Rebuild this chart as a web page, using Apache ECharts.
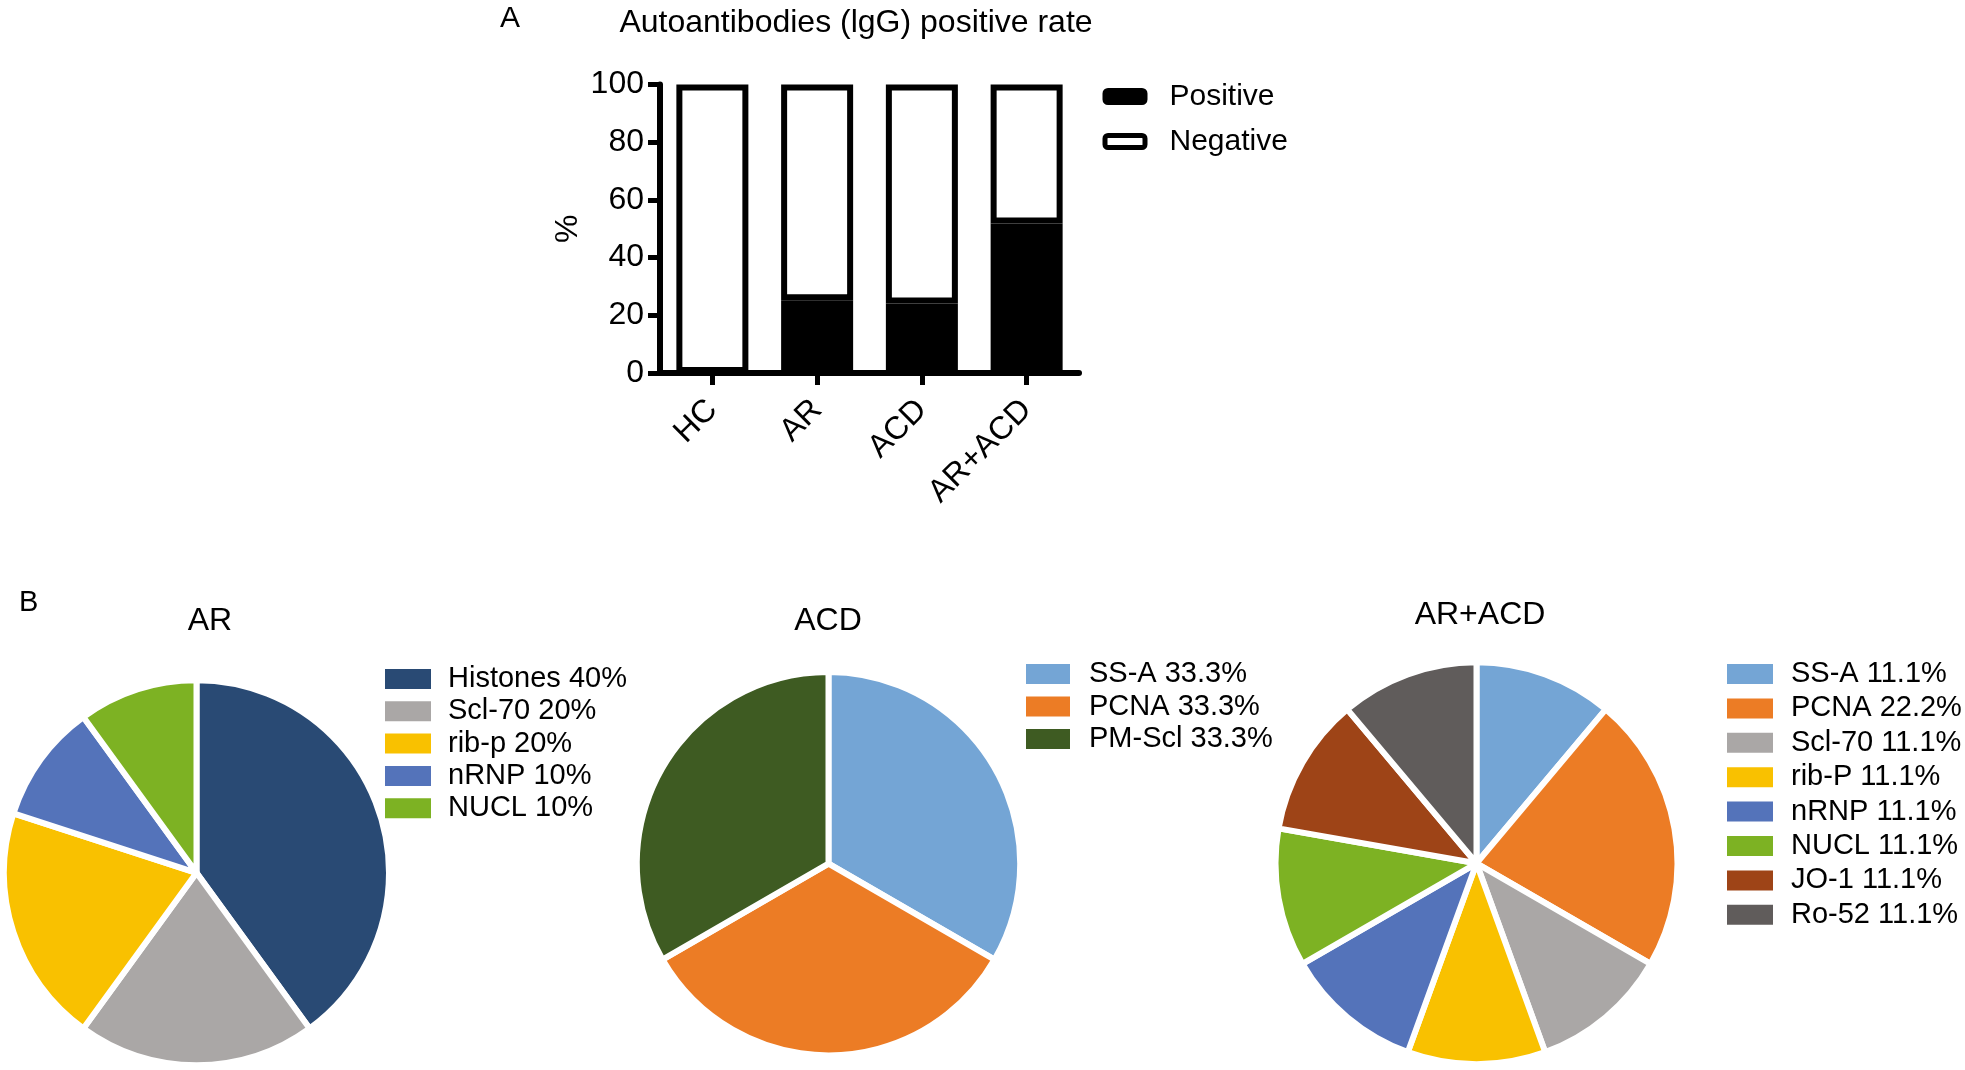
<!DOCTYPE html>
<html>
<head>
<meta charset="utf-8">
<script src="https://cdn.jsdelivr.net/npm/echarts@6/dist/echarts.min.js"></script>
<style>
html,body{margin:0;padding:0;background:#fff;}
#chart{width:1965px;height:1070px;}
</style>
</head>
<body>
<div id="chart"></div>
<script>
// ---- Panel A data ----
const barCategories = ['HC', 'AR', 'ACD', 'AR+ACD'];
const positiveRate = [0, 25.2, 24.1, 51.8];
const negativeRate = [100, 74.8, 75.9, 48.2];
const yTicks = [0, 20, 40, 60, 80, 100];

// ---- Panel B data ----
const arNames = ['Histones', 'Scl-70', 'rib-p', 'nRNP', 'NUCL'];
const arValues = [40, 20, 20, 10, 10];
const acdNames = ['SS-A', 'PCNA', 'PM-Scl'];
const acdValues = [33.3, 33.3, 33.3];
const bothNames = ['SS-A', 'PCNA', 'Scl-70', 'rib-P', 'nRNP', 'NUCL', 'JO-1', 'Ro-52'];
const bothValues = [11.1, 22.2, 11.1, 11.1, 11.1, 11.1, 11.1, 11.1];

// ---- styles ----
const FONT = "'Liberation Sans', Arial, Helvetica, sans-serif";
const sliceColors = {
  'Histones': '#294A74', 'Scl-70': '#AAA7A6', 'rib-p': '#F9C100', 'rib-P': '#F9C100',
  'nRNP': '#5473BA', 'NUCL': '#7DB223', 'SS-A': '#74A5D5', 'PCNA': '#EC7C25',
  'PM-Scl': '#3E5B22', 'JO-1': '#9E4417', 'Ro-52': '#605C5B'
};

function pieData(names, values) {
  return names.map((n, i) => ({
    name: n + ' ' + values[i] + '%',
    value: values[i],
    itemStyle: { color: sliceColors[n] }
  }));
}
const arData = pieData(arNames, arValues);
const acdData = pieData(acdNames, acdValues);
const bothData = pieData(bothNames, bothValues);

function pieSeries(name, data, center, radius) {
  return {
    type: 'pie', name: name, data: data,
    center: center, radius: radius,
    startAngle: 90, clockwise: true,
    label: { show: false }, labelLine: { show: false },
    emphasis: { disabled: true }, silent: true,
    itemStyle: { borderColor: '#ffffff', borderWidth: 6 }
  };
}

function pieLegend(data, left, top, itemWidth, gap, pad) {
  return {
    orient: 'vertical', left: left, top: top, padding: 0,
    itemWidth: itemWidth, itemHeight: 20, itemGap: gap, icon: 'rect',
    data: data.map(d => d.name),
    itemStyle: { borderWidth: 0 },
    selectedMode: false,
    textStyle: { fontFamily: FONT, fontSize: 29, color: '#000', lineHeight: 29, padding: [0, 0, 0, pad] }
  };
}

const titleStyle = (size) => ({ fontFamily: FONT, fontSize: size, fontWeight: 'normal', color: '#000' });

const option = {
  animation: false,
  backgroundColor: '#ffffff',
  title: [
    { text: 'A', left: 500, top: 4, padding: 0, textStyle: titleStyle(30) },
    { text: 'Autoantibodies (lgG) positive rate', left: 856, top: 7.5, padding: 0, textAlign: 'center', textStyle: titleStyle(32) },
    { text: 'B', left: 19, top: 588, padding: 0, textStyle: titleStyle(29) },
    { text: 'AR', left: 210, top: 605.5, padding: 0, textAlign: 'center', textStyle: titleStyle(32) },
    { text: 'ACD', left: 828, top: 605, padding: 0, textAlign: 'center', textStyle: titleStyle(32) },
    { text: 'AR+ACD', left: 1480, top: 599.5, padding: 0, textAlign: 'center', textStyle: titleStyle(32) }
  ],
  legend: [
    {
      orient: 'vertical', left: 1102.5, top: 81.5, padding: 0,
      itemWidth: 40, itemHeight: 12, itemGap: 15,
      data: ['Positive', 'Negative'], selectedMode: false,
      itemStyle: { borderWidth: 5, borderColor: '#000' },
      textStyle: { fontFamily: FONT, fontSize: 30, color: '#000', lineHeight: 30, padding: [0, 0, 0, 19.5] }
    },
    pieLegend(arData, 385, 664.5, 46, 3.3, 12),
    pieLegend(acdData, 1026, 659.5, 44, 3.5, 14),
    pieLegend(bothData, 1727, 659.5, 46, 5.4, 13)
  ],
  grid: { left: 660, top: 84.5, width: 419, height: 288.5, containLabel: false },
  xAxis: {
    type: 'category', data: barCategories,
    axisLine: { show: true, lineStyle: { color: '#000', width: 6 } },
    axisTick: { show: true, alignWithLabel: true, length: 12, lineStyle: { color: '#000', width: 5 } },
    axisLabel: { rotate: 45, margin: 32, fontFamily: FONT, fontSize: 32, color: '#000' },
    splitLine: { show: false }
  },
  yAxis: {
    type: 'value', min: yTicks[0], max: yTicks[yTicks.length - 1], interval: yTicks[1] - yTicks[0],
    name: '%', nameLocation: 'middle', nameGap: 76,
    nameTextStyle: { fontFamily: FONT, fontSize: 32, color: '#000' },
    axisLine: { show: true, lineStyle: { color: '#000', width: 6 } },
    axisTick: { show: true, length: 12, lineStyle: { color: '#000', width: 5 } },
    axisLabel: { margin: 16, fontFamily: FONT, fontSize: 32, color: '#000' },
    splitLine: { show: false }
  },
  series: [
    {
      name: 'Positive', type: 'bar', stack: 'rate', data: positiveRate, barWidth: 72,
      itemStyle: { color: '#000', borderColor: '#000', borderWidth: 6 },
      emphasis: { disabled: true }, silent: true
    },
    {
      name: 'Negative', type: 'bar', stack: 'rate', data: negativeRate, barWidth: 72,
      itemStyle: { color: '#fff', borderColor: '#000', borderWidth: 6 },
      emphasis: { disabled: true }, silent: true
    },
    pieSeries('AR', arData, [196.5, 872.8], 192.5),
    pieSeries('ACD', acdData, [828.5, 863.7], 191.7),
    pieSeries('AR+ACD', bothData, [1476.5, 863.3], 201)
  ]
};

const chart = echarts.init(document.getElementById('chart'), null, { renderer: 'canvas', width: 1965, height: 1070 });
chart.setOption(option);
</script>
</body>
</html>
